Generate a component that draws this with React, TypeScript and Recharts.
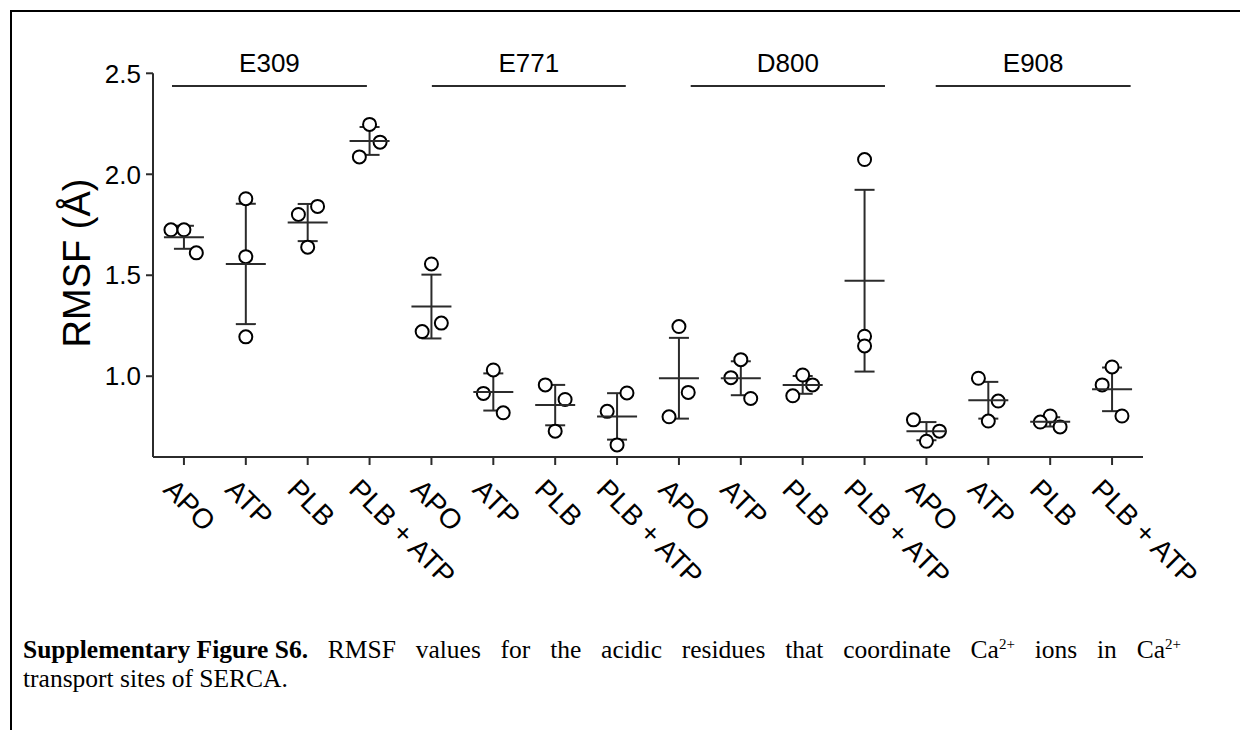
import { ScatterChart, Scatter, XAxis, YAxis, ErrorBar, ReferenceLine } from 'recharts';

// conditions repeated for each residue
const conditions = ['APO', 'ATP', 'PLB', 'PLB + ATP'];
const residues = ['E309', 'E771', 'D800', 'E908'];
const categories = residues.flatMap(() => conditions);

// RMSF of the three replicas, per category (Å)
const rmsf = [
  [1.725, 1.725, 1.611],
  [1.879, 1.592, 1.195],
  [1.801, 1.841, 1.639],
  [2.247, 2.159, 2.086],
  [1.556, 1.263, 1.221],
  [1.031, 0.915, 0.819],
  [0.957, 0.885, 0.728],
  [0.826, 0.917, 0.66],
  [1.246, 0.92, 0.799],
  [1.082, 0.993, 0.89],
  [1.006, 0.957, 0.903],
  [2.073, 1.198, 1.15],
  [0.784, 0.728, 0.678],
  [0.99, 0.877, 0.778],
  [0.803, 0.773, 0.749],
  [1.046, 0.957, 0.803],
];

// horizontal scatter of the dots, in category units
const jitter = [
  [-0.21, 0, 0.2],
  [0, 0, 0],
  [-0.15, 0.16, 0],
  [0, 0.17, -0.165],
  [0, 0.16, -0.15],
  [0, -0.16, 0.16],
  [-0.16, 0.16, 0],
  [-0.16, 0.16, 0],
  [0, 0.15, -0.16],
  [0, -0.16, 0.16],
  [0, 0.16, -0.16],
  [0, 0, 0],
  [-0.21, 0.21, 0],
  [-0.16, 0.16, 0],
  [0, -0.16, 0.16],
  [0, -0.16, 0.16],
];

const means = [1.688, 1.556, 1.761, 2.165, 1.345, 0.922, 0.857, 0.801, 0.99, 0.99, 0.957, 1.473, 0.728, 0.881, 0.774, 0.935];
const sds = [0.057, 0.298, 0.092, 0.069, 0.158, 0.092, 0.1, 0.115, 0.2, 0.084, 0.044, 0.45, 0.045, 0.091, 0.023, 0.108];

// extent of the bracket line over each residue group (category units)
const groupSpans = [
  [-0.193, 2.957],
  [4.007, 7.141],
  [8.19, 11.33],
  [12.15, 15.3],
];

const yTicks = [1.0, 1.5, 2.0, 2.5];
const xTicks = categories.map((_, i) => i);

const points = rmsf.flatMap((vals, i) => vals.map((v, j) => ({ x: i + jitter[i][j], y: v })));
const meanData = means.map((m, i) => ({ x: i, y: m, sd: sds[i] }));

const FONT = '"Liberation Sans", Arial, sans-serif';
const SERIF = '"Liberation Serif", "Times New Roman", serif';
const AXIS = '#2b2b2b';

function Dot(props: any) {
  return <circle cx={props.cx} cy={props.cy} r={6.5} fill="#fff" stroke="#000" strokeWidth={2} />;
}

function MeanLine(props: any) {
  return <line x1={props.cx - 20} x2={props.cx + 20} y1={props.cy} y2={props.cy} stroke={AXIS} strokeWidth={2} />;
}

function XTick(props: any) {
  const { x, y, payload } = props;
  return (
    <text
      transform={`translate(${x - 22},${y + 26}) rotate(45)`}
      fontSize={28}
      fontFamily={FONT}
      fill="#000"
      textAnchor="start"
    >
      {categories[payload.value]}
    </text>
  );
}

function YLabel() {
  const cx = 68;
  const cy = 255;
  return (
    <text
      x={cx}
      y={cy}
      dy="0.358em"
      transform={`rotate(-90 ${cx} ${cy})`}
      textAnchor="middle"
      fontSize={38}
      fontFamily={FONT}
      fill="#000"
    >
      RMSF (Å)
    </text>
  );
}

const supStyle = { fontSize: 15, lineHeight: 0 };

export default function App() {
  return (
    <div style={{ position: 'relative', width: 1240, height: 722, background: '#fff' }}>
      <div style={{ position: 'absolute', left: 2, top: 2, width: 1238, height: 2, background: '#000' }} />
      <div style={{ position: 'absolute', left: 2, top: 2, width: 2, height: 720, background: '#000' }} />

      <div style={{ position: 'absolute', left: 0, top: 0 }}>
        <ScatterChart width={1240} height={600} margin={{ top: 65.3, right: 105, bottom: 0, left: 0 }}>
          <XAxis
            type="number"
            dataKey="x"
            domain={[-0.5, 15.5]}
            ticks={xTicks}
            interval={0}
            allowDataOverflow
            height={151}
            tickSize={8}
            tickMargin={0}
            axisLine={{ stroke: AXIS, strokeWidth: 2 }}
            tickLine={{ stroke: AXIS, strokeWidth: 2 }}
            tick={<XTick />}
          />
          <YAxis
            type="number"
            dataKey="y"
            domain={[0.6, 2.5]}
            ticks={yTicks}
            allowDataOverflow
            width={145}
            tickSize={7}
            tickMargin={5}
            tickFormatter={(v: number) => v.toFixed(1)}
            axisLine={{ stroke: AXIS, strokeWidth: 2 }}
            tickLine={{ stroke: AXIS, strokeWidth: 2 }}
            tick={{ fontSize: 26, fontFamily: FONT, fill: '#000' }}
            label={<YLabel />}
          />
          {residues.map((r, i) => (
            <ReferenceLine
              key={r}
              segment={[
                { x: groupSpans[i][0], y: 2.437 },
                { x: groupSpans[i][1], y: 2.437 },
              ]}
              stroke={AXIS}
              strokeWidth={2}
              label={{ value: r, position: 'top', offset: 14, fontSize: 26, fontFamily: FONT, fill: '#000' }}
            />
          ))}
          <Scatter data={points} shape={<Dot />} isAnimationActive={false} />
          <Scatter data={meanData} shape={<MeanLine />} isAnimationActive={false}>
            <ErrorBar dataKey="sd" direction="y" width={10} stroke={AXIS} strokeWidth={2} />
          </Scatter>
        </ScatterChart>
      </div>

      <div
        style={{
          position: 'absolute',
          left: 15,
          top: 627,
          width: 1158,
          fontFamily: SERIF,
          fontSize: 25.5,
          lineHeight: '29px',
          color: '#000',
        }}
      >
        <div style={{ display: 'flex', justifyContent: 'space-between', whiteSpace: 'nowrap' }}>
          <b>Supplementary Figure S6.</b>
          {'RMSF values for the acidic residues that coordinate'.split(' ').map((w, k) => (
            <span key={k}>{w}</span>
          ))}
          <span>
            Ca<sup style={supStyle}>2+</sup>
          </span>
          <span>ions</span>
          <span>in</span>
          <span>
            Ca<sup style={supStyle}>2+</sup>
          </span>
        </div>
        <div>transport sites of SERCA.</div>
      </div>
    </div>
  );
}
